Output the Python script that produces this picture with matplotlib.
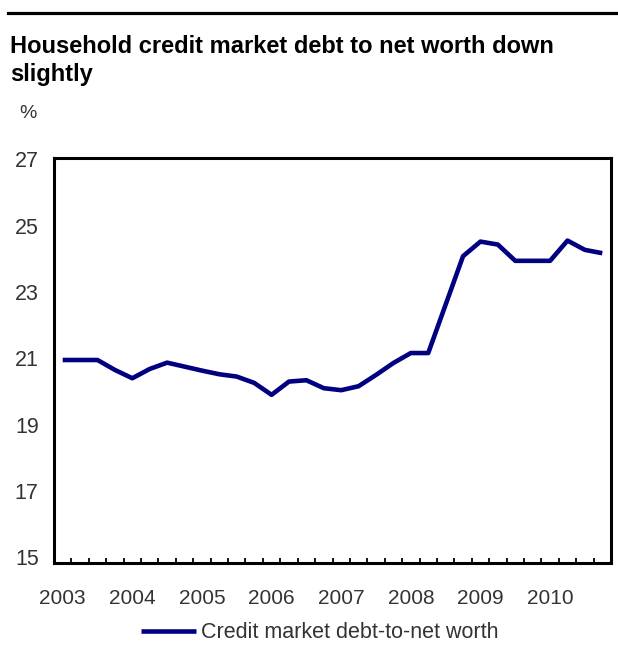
import numpy as np
import matplotlib
matplotlib.use("Agg")
import matplotlib.pyplot as plt
from matplotlib.lines import Line2D

plt.rcParams['font.family'] = ['Liberation Sans', 'DejaVu Sans']

# Quarterly household credit market debt to net worth, 2003Q1-2010Q4 (%)
years = [2003, 2004, 2005, 2006, 2007, 2008, 2009, 2010]
quarters_per_year = 4
debt_to_net_worth = [
    20.95, 20.95, 20.95, 20.65,
    20.40, 20.68, 20.87, 20.75,
    20.63, 20.52, 20.45, 20.26,
    19.90, 20.30, 20.34, 20.10,
    20.04, 20.16, 20.50, 20.86,
    21.16, 21.16, 22.62, 24.08,
    24.52, 24.43, 23.94, 23.94,
    23.94, 24.55, 24.27, 24.17,
]
y_ticks = [15, 17, 19, 21, 23, 25, 27]
series_label = "Credit market debt-to-net worth"
title = "Household credit market debt to net worth down\nslightly"

W, H = 618, 657
fig = plt.figure(figsize=(W / 100, H / 100), dpi=100)

# rule above the title
fig.add_artist(Line2D([8 / W, 1.0], [1 - 13 / H, 1 - 13 / H],
                      color="black", lw=2.3, transform=fig.transFigure))

fig.text(10 / W, 1 - 35 / H, title, ha="left", va="top",
         fontsize=17, fontweight="bold", color="black", linespacing=1.3)
fig.text(28 / W, 1 - 113 / H, "%", ha="center", va="center",
         fontsize=14, color="#333333")

ax = fig.add_axes([54 / W, 1 - 563 / H, 557 / W, 405 / H])

x = np.arange(len(debt_to_net_worth))
ax.plot(x, debt_to_net_worth, color="#000080", lw=3.3,
        solid_joinstyle="round", solid_capstyle="butt",
        label=series_label)

ax.set_xlim(-0.5, len(debt_to_net_worth) - 0.5)
ax.set_ylim(14.83, 27.04)

# year labels under the first quarter of each year
ax.set_xticks(np.arange(len(years)) * quarters_per_year)
ax.set_xticklabels([str(y) for y in years])
ax.set_xticks(np.arange(0.5, len(debt_to_net_worth) - 0.5, 1.0), minor=True)
ax.tick_params(axis="x", which="major", length=0, pad=19,
               labelsize=15, labelcolor="#333333")
ax.tick_params(axis="x", which="minor", direction="in", length=3.5,
               width=1.3, color="black")

ax.set_yticks(y_ticks)
ax.set_yticklabels([str(v) for v in y_ticks])
ax.tick_params(axis="y", which="both", length=0, pad=11,
               labelsize=15.5, labelcolor="#333333")

for side in ("left", "right", "top", "bottom"):
    ax.spines[side].set_linewidth(2.2)
    ax.spines[side].set_color("black")

fs = 15.5
fig.legend(handles=ax.get_lines(), labels=[series_label],
           loc="center", bbox_to_anchor=(320 / W, 1 - 633 / H),
           frameon=False, fontsize=fs, handlelength=55 / (fs * 100 / 72),
           handletextpad=0.25, labelcolor="#333333")

fig.savefig("out.png", dpi=100)
